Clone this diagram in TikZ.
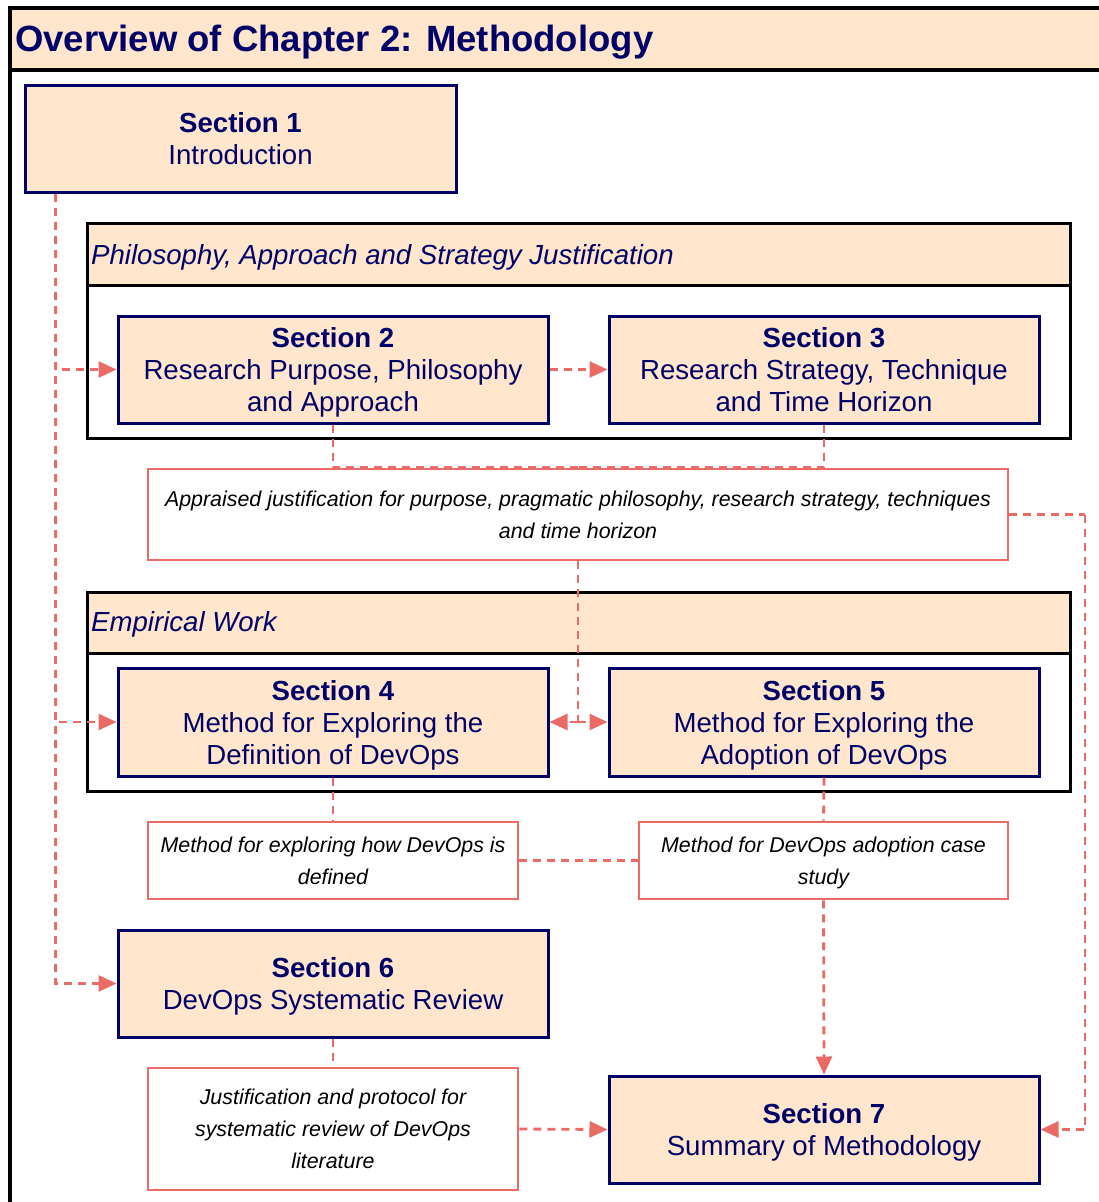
\documentclass[tikz,border=0pt]{standalone}
\usepackage{fontspec}
\setmainfont{Liberation Sans}
\usetikzlibrary{arrows.meta,calc}
\definecolor{navy}{HTML}{000066}
\definecolor{peach}{HTML}{FFE6CC}
\definecolor{salmon}{HTML}{EA6B66}
\tikzset{
  secbox/.style={draw=navy, fill=peach, line width=3pt, text=navy,
    minimum width=430pt, minimum height=107pt, align=center, inner sep=0pt,
    text depth=0pt, font=\fontsize{27.6}{32}\selectfont},
  notebox/.style={draw=salmon, fill=white, line width=2.8pt, text=black,
    align=center, inner sep=0pt, text depth=0pt,
    font=\fontsize{21.4}{32}\selectfont\itshape},
  groupframe/.style={draw=black, line width=3pt},
  groupband/.style={draw=black, fill=peach, line width=3pt},
  grouptitle/.style={anchor=west, text=navy, inner sep=0pt,
    font=\fontsize{27.6}{32}\selectfont\itshape},
  dline/.style={draw=salmon, line width=2.8pt, dash pattern=on 8pt off 6pt},
  conn/.style={dline, -{Triangle[length=18pt,width=16pt]}},
}
\begin{document}
\begin{tikzpicture}[x=1pt,y=-1pt]
\useasboundingbox (0,0) rectangle (1099,1202);
\clip (0,0) rectangle (1099,1202);
\fill[white] (0,0) rectangle (1099,1202);

% outer frame with its title band
\draw[black, line width=3.2pt] (10,8) rectangle (1110,1215);
\draw[black, fill=peach, line width=3.2pt] (10,8) rectangle (1110,70);
\node[anchor=west, text=navy, inner sep=0pt, font=\fontsize{36.5}{40}\selectfont\bfseries]
  (title) at (15,42) {Overview of Chapter 2: Methodology};

% group: philosophy, approach and strategy
\draw[groupframe] (87,223) rectangle (1070,438);
\draw[groupband] (87,223) rectangle (1070,285);
\node[grouptitle] (g1title) at (91,257.5) {Philosophy, Approach and Strategy Justification};

% group: empirical work
\draw[groupframe] (87,592) rectangle (1070,791);
\draw[groupband] (87,592) rectangle (1070,653);
\node[grouptitle] (g2title) at (91,624.5) {Empirical Work};

% sections
\node[secbox, minimum width=431pt] (s1) at (240.5,138.5) {\textbf{Section 1}\\Introduction};
\node[secbox] (s2) at (333,369.5) {\textbf{Section 2}\\Research Purpose, Philosophy\\and Approach};
\node[secbox] (s3) at (824,369.5) {\textbf{Section 3}\\Research Strategy, Technique\\and Time Horizon};
\node[secbox, minimum height=108pt] (s4) at (333,722) {\textbf{Section 4}\\Method for Exploring the\\Definition of DevOps};
\node[secbox, minimum height=108pt] (s5) at (824,722) {\textbf{Section 5}\\Method for Exploring the\\Adoption of DevOps};
\node[secbox] (s6) at (333,983.5) {\textbf{Section 6}\\DevOps Systematic Review};
\node[secbox] (s7) at (824,1129.5) {\textbf{Section 7}\\Summary of Methodology};

% notes
\node[notebox, minimum width=860pt, minimum height=91pt] (app) at (578,514.5)
  {Appraised justification for purpose, pragmatic philosophy, research strategy, techniques\\and time horizon};
\node[notebox, minimum width=370pt, minimum height=77pt] (m1) at (333,860.5)
  {Method for exploring how DevOps is\\defined};
\node[notebox, minimum width=369pt, minimum height=77pt] (m2) at (823.5,860.5)
  {Method for DevOps adoption case\\study};
\node[notebox, minimum width=370pt, minimum height=122pt] (just) at (333,1129)
  {Justification and protocol for\\systematic review of DevOps\\literature};

% connectors
\coordinate (trunk) at ($(s1.south west)+(32,0)$);
\draw[conn] (trunk) |- (s2.west);
\draw[conn] (trunk) |- (s4.west);
\draw[conn] (trunk) |- (s6.west);
\draw[conn] (s2.east) -- (s3.west);
\draw[dline] (s2.south) |- (app.north);
\draw[dline] (s3.south) |- (app.north);
\coordinate (split) at (app.south |- s4.east);
\draw[dline] (app.south) -- (split);
\draw[conn] (split) -- (s4.east);
\draw[conn] (split) -- (s5.west);
\coordinate (rside) at (1085,514.5);
\draw[dline] (app.east) -- (rside);
\draw[conn] (rside) |- (s7.east);
\draw[dline] (s4.south) -- (m1.north);
\draw[dline] (s5.south) -- (m2.north);
\draw[dline] (m1.east) -- (m2.west);
\draw[conn] (m2.south) -- (s7.north);
\draw[dline] (s6.south) -- (just.north);
\draw[conn] (just.east) -- (s7.west);
\end{tikzpicture}
\end{document}
